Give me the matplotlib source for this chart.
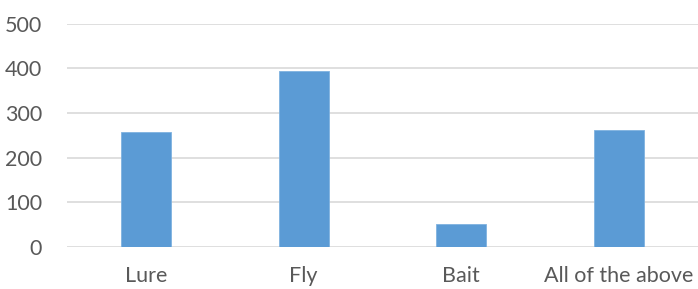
import matplotlib
matplotlib.use("Agg")
import matplotlib.pyplot as plt

categories = ["Lure", "Fly", "Bait", "All of the above"]
values = [257, 393, 51, 261]
yticks = [0, 100, 200, 300, 400, 500]

plt.rcParams['font.family'] = ['Lato', 'DejaVu Sans']

fig = plt.figure(figsize=(6.98, 2.89), dpi=100)
W, H = 698, 289
ax = fig.add_axes([67 / W, 1 - 247 / H, (698 - 67) / W, (247 - 23.5) / H])

x = range(len(categories))
ax.bar(x, values, width=0.316, color="#5b9bd5", edgecolor="#7fb2e0", linewidth=0.6, zorder=3)
ax.set_xlim(-0.5, len(categories) - 0.5)
ax.set_ylim(0, 500)
ax.set_yticks(yticks)
ax.set_yticklabels([str(t) for t in yticks])
ax.set_xticks(list(x))
ax.set_xticklabels(categories)
ax.grid(axis='y', color="#d9d9d9", linewidth=1.2, zorder=0)
ax.set_axisbelow(True)
for s in ax.spines.values():
    s.set_visible(False)
ax.tick_params(axis='both', length=0, colors="#595959", labelsize=15.5)
ax.tick_params(axis='y', pad=18)
ax.tick_params(axis='x', pad=14)
for lbl in ax.get_xticklabels() + ax.get_yticklabels():
    lbl.set_color("#595959")

fig.savefig("out.png", dpi=100)
